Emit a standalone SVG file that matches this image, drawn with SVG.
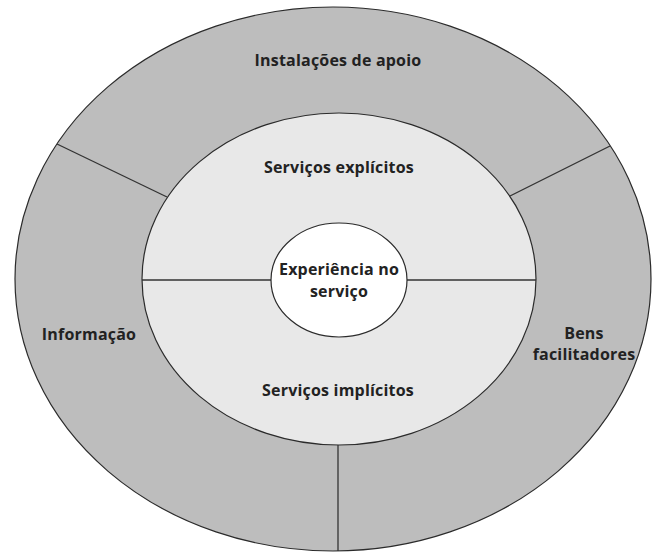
<svg xmlns="http://www.w3.org/2000/svg" width="652" height="552" viewBox="0 0 652 552">
<style>
.ring{stroke:#2b2b2b;stroke-width:1.2}
.line{stroke:#333;stroke-width:1.3;fill:none}
.lbl{font-family:"Open Sans","Noto Sans","DejaVu Sans",sans-serif;font-weight:bold;font-size:16px;letter-spacing:0.2px;fill:#222;text-anchor:middle}
</style>
<rect width="652" height="552" fill="#fff"/>
<g id="outer-ring">
<ellipse class="ring" cx="333" cy="279" rx="318" ry="272" fill="#bdbdbd"/>
</g>
<g id="inner-ring">
<ellipse class="ring" cx="339" cy="279" rx="197" ry="166" fill="#e8e8e8"/>
</g>
<g id="connectors">
<line class="line" x1="57" y1="144" x2="167" y2="197"/>
<line class="line" x1="510" y1="196" x2="610" y2="146"/>
<line class="line" x1="338" y1="445" x2="338" y2="551"/>
<line class="line" x1="142" y1="280" x2="271" y2="280" stroke="#666"/>
<line class="line" x1="407" y1="280" x2="536" y2="280" stroke="#666"/>
</g>
<g id="center">
<ellipse class="ring" cx="339" cy="280" rx="68" ry="57" fill="#fff"/>
<text class="lbl" x="339" y="275">Experiência no</text>
<text class="lbl" x="339" y="297">serviço</text>
</g>
<g id="instalacoes"><text class="lbl" x="338" y="66">Instalações de apoio</text></g>
<g id="explicitos"><text class="lbl" x="339" y="173">Serviços explícitos</text></g>
<g id="implicitos"><text class="lbl" x="338" y="396">Serviços implícitos</text></g>
<g id="informacao"><text class="lbl" x="89" y="340">Informação</text></g>
<g id="bens"><text class="lbl" x="584" y="339">Bens</text><text class="lbl" x="584" y="360">facilitadores</text></g>
</svg>
